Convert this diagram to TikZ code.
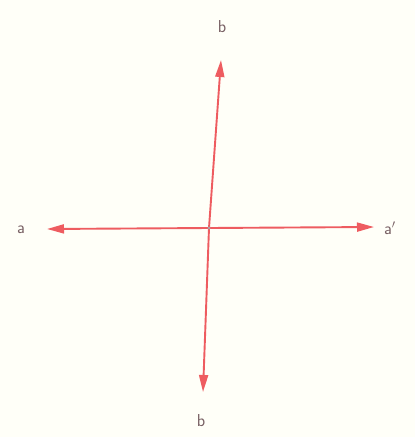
\documentclass[tikz,border=0pt]{standalone}
\usetikzlibrary{arrows.meta}
\definecolor{rojo}{RGB}{238,92,96}
\definecolor{tinta}{RGB}{120,96,100}
\definecolor{papel}{RGB}{255,255,248}
\begin{document}
\begin{tikzpicture}[x=1pt, y=-1pt,
    eje/.style={rojo, line width=1.9pt, -{Triangle[length=17pt, width=9pt]}},
    letra/.style={tinta, font=\sffamily\LARGE}]
    % Fondo y marco de la figura (415 x 437).
    \fill[papel] (0,0) rectangle (415,437);
    \useasboundingbox (0,0) rectangle (415,437);

    % Origen y extremos de los dos ejes.
    \coordinate (o) at (209,228);
    \coordinate (bsup) at (221,60);
    \coordinate (binf) at (203,392);
    \coordinate (aizq) at (47,229);
    \coordinate (ader) at (374,227);

    \draw[eje] (o) -- (bsup);
    \draw[eje] (o) -- (binf);
    \draw[eje] (o) -- (aizq);
    \draw[eje] (o) -- (ader);
    \fill[tinta!60] (o) circle (1.6pt);

    \node[letra] (lbsup) at (222,27) {b};
    \node[letra] (lbinf) at (201,421) {b};
    \node[letra] (laizq) at (21,230) {a};
    \node[letra] (lader) at (390,228) {a$'$};
\end{tikzpicture}
\end{document}
